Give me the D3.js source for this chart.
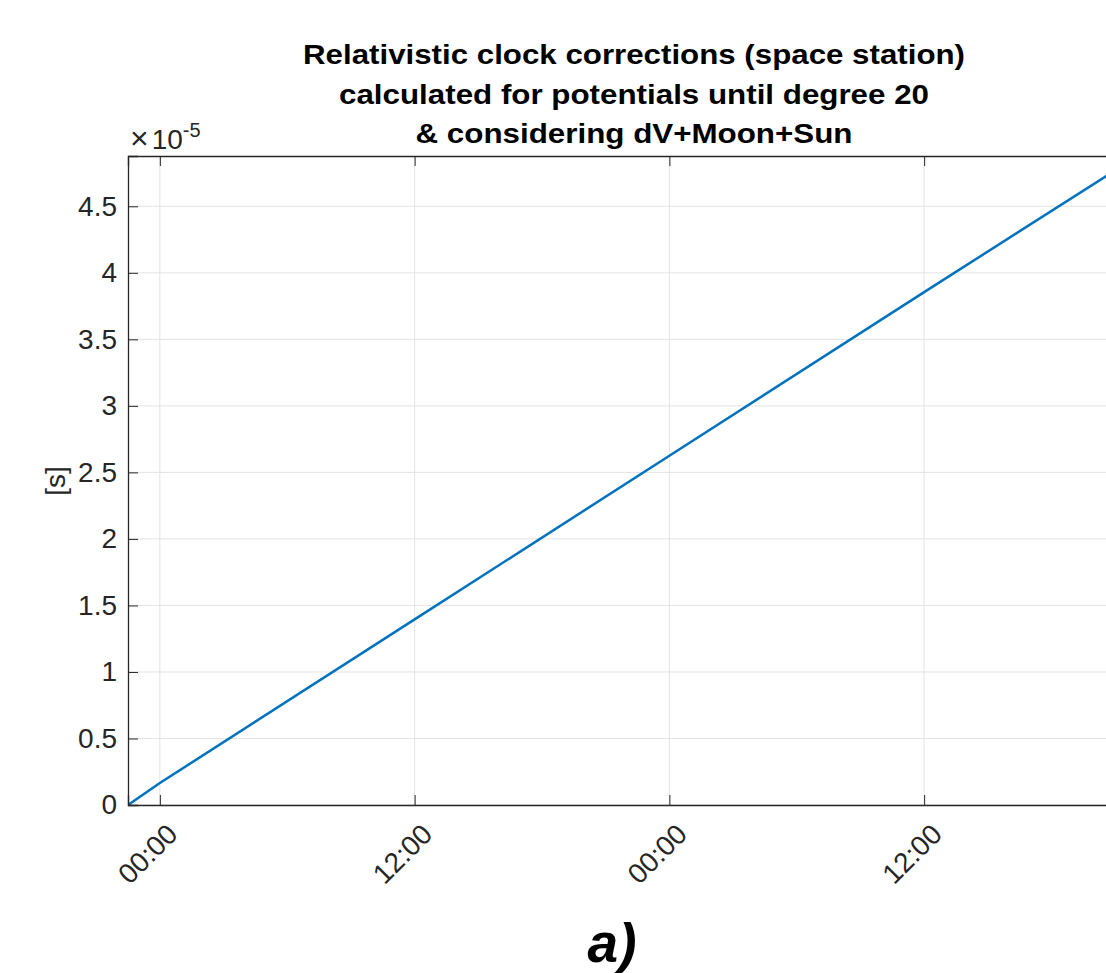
<!DOCTYPE html>
<html>
<head>
<meta charset="utf-8">
<script src="https://cdn.jsdelivr.net/npm/d3@7"></script>
<style>
  body { margin: 0; background: #fff; }
  svg { display: block; font-family: "Liberation Sans", Arial, Helvetica, sans-serif; }
</style>
</head>
<body>
<svg id="chart" width="1106" height="973"></svg>
<script>
const TITLE = [
  "Relativistic clock corrections (space station)",
  "calculated for potentials until degree 20",
  "& considering dV+Moon+Sun"
];
const TITLE_WIDTHS = [662, 590, 437];
const Y_LABEL = "[s]";
const PANEL = "a)";

// sample times (UTC) and clock correction in seconds
const times = [
  "2020-01-01T22:30:00Z",
  "2020-01-02T00:00:00Z",
  "2020-01-02T12:00:00Z",
  "2020-01-03T00:00:00Z",
  "2020-01-03T12:00:00Z",
  "2020-01-03T20:36:00Z",
  "2020-01-03T22:10:00Z"
];
const values = [0, 0.165e-5, 1.395e-5, 2.625e-5, 3.855e-5, 4.73e-5, 4.89e-5];

const yTicks = [0, 0.5e-5, 1e-5, 1.5e-5, 2e-5, 2.5e-5, 3e-5, 3.5e-5, 4e-5, 4.5e-5];

const M = { left: 128, top: 156, right: 1140, bottom: 805 };
const AXIS = "#262626";
const GRID = "#e3e3e3";
const LINE = "#0072BD";
const TICK_LEN = 10;
const FONT = 28;

const parse = d3.isoParse;
const data = times.map((t, i) => ({ t: parse(t), v: values[i] }));

const x = d3.scaleUtc()
  .domain([parse("2020-01-01T22:30:00Z"), parse("2020-01-03T22:10:00Z")])
  .range([M.left, M.right]);
const y = d3.scaleLinear().domain([0, 4.878e-5]).range([M.bottom, M.top]);

const xTicks = d3.utcHour.every(12).range(x.domain()[0], x.domain()[1]);

const svg = d3.select("#chart");

svg.append("defs").append("clipPath").attr("id", "plot")
  .append("rect")
  .attr("x", M.left).attr("y", M.top)
  .attr("width", M.right - M.left).attr("height", M.bottom - M.top);

// grid
const grid = svg.append("g");
grid.selectAll(".gx").data(xTicks).join("line")
  .attr("x1", (d) => x(d)).attr("x2", (d) => x(d))
  .attr("y1", M.top).attr("y2", M.bottom)
  .attr("stroke", GRID).attr("stroke-width", 1);
grid.selectAll(".gy").data(yTicks).join("line")
  .attr("x1", M.left).attr("x2", M.right)
  .attr("y1", (d) => y(d)).attr("y2", (d) => y(d))
  .attr("stroke", GRID).attr("stroke-width", 1);

// data line
svg.append("path")
  .datum(data)
  .attr("clip-path", "url(#plot)")
  .attr("fill", "none")
  .attr("stroke", LINE)
  .attr("stroke-width", 2.5)
  .attr("d", d3.line().x((d) => x(d.t)).y((d) => y(d.v)));

// axes (MATLAB style, ticks inside)
const fmtX = d3.utcFormat("%H:%M");
const fmtY = (d) => d3.format("~g")(+(d / 1e-5).toFixed(2));

const xAxis = svg.append("g").attr("transform", `translate(0,${M.bottom})`)
  .call(d3.axisBottom(x).tickValues(xTicks).tickSize(-TICK_LEN).tickFormat(fmtX));
xAxis.select(".domain").attr("stroke", AXIS).attr("stroke-width", 1.3);
xAxis.selectAll(".tick line").attr("stroke", AXIS);
xAxis.selectAll(".tick text")
  .attr("fill", AXIS)
  .attr("font-size", FONT)
  .attr("text-anchor", "end")
  .attr("y", 0).attr("dy", 0)
  .attr("transform", "translate(19,31) rotate(-45)");

const xTop = svg.append("g").attr("transform", `translate(0,${M.top})`)
  .call(d3.axisTop(x).tickValues(xTicks).tickSize(-TICK_LEN).tickFormat(""));
xTop.select(".domain").attr("stroke", AXIS).attr("stroke-width", 1.3);
xTop.selectAll(".tick line").attr("stroke", AXIS);

const yAxis = svg.append("g").attr("transform", `translate(${M.left},0)`)
  .call(d3.axisLeft(y).tickValues(yTicks).tickSize(-TICK_LEN).tickPadding(11).tickFormat(fmtY));
yAxis.select(".domain").attr("stroke", AXIS).attr("stroke-width", 1.3);
yAxis.selectAll(".tick line").attr("stroke", AXIS);
yAxis.selectAll(".tick text").attr("fill", AXIS).attr("font-size", FONT);

// exponent label
const expo = svg.append("text")
  .attr("x", 130).attr("y", 149)
  .attr("fill", AXIS).attr("font-size", FONT);
expo.append("tspan").attr("font-size", 32).attr("font-weight", 300).text("\u00d7");
expo.append("tspan").attr("dx", 3).text("10");
expo.append("tspan").attr("font-size", 20).attr("dy", -12).text("-5");

// y label
svg.append("text")
  .attr("transform", "translate(65,481) rotate(-90)")
  .attr("text-anchor", "middle")
  .attr("fill", AXIS).attr("font-size", FONT)
  .text(Y_LABEL);

// title
svg.append("g").selectAll("text").data(TITLE).join("text")
  .attr("x", (M.left + M.right) / 2)
  .attr("y", (d, i) => 64 + i * 39.5)
  .attr("text-anchor", "middle")
  .attr("font-size", 28)
  .attr("font-weight", "bold")
  .attr("fill", "#000")
  .attr("textLength", (d, i) => TITLE_WIDTHS[i])
  .attr("lengthAdjust", "spacingAndGlyphs")
  .text((d) => d);

// panel label
svg.append("text")
  .attr("x", 612).attr("y", 962)
  .attr("text-anchor", "middle")
  .attr("font-size", 55)
  .attr("font-weight", "bold")
  .attr("font-style", "italic")
  .attr("fill", "#000")
  .text(PANEL);
</script>
</body>
</html>
